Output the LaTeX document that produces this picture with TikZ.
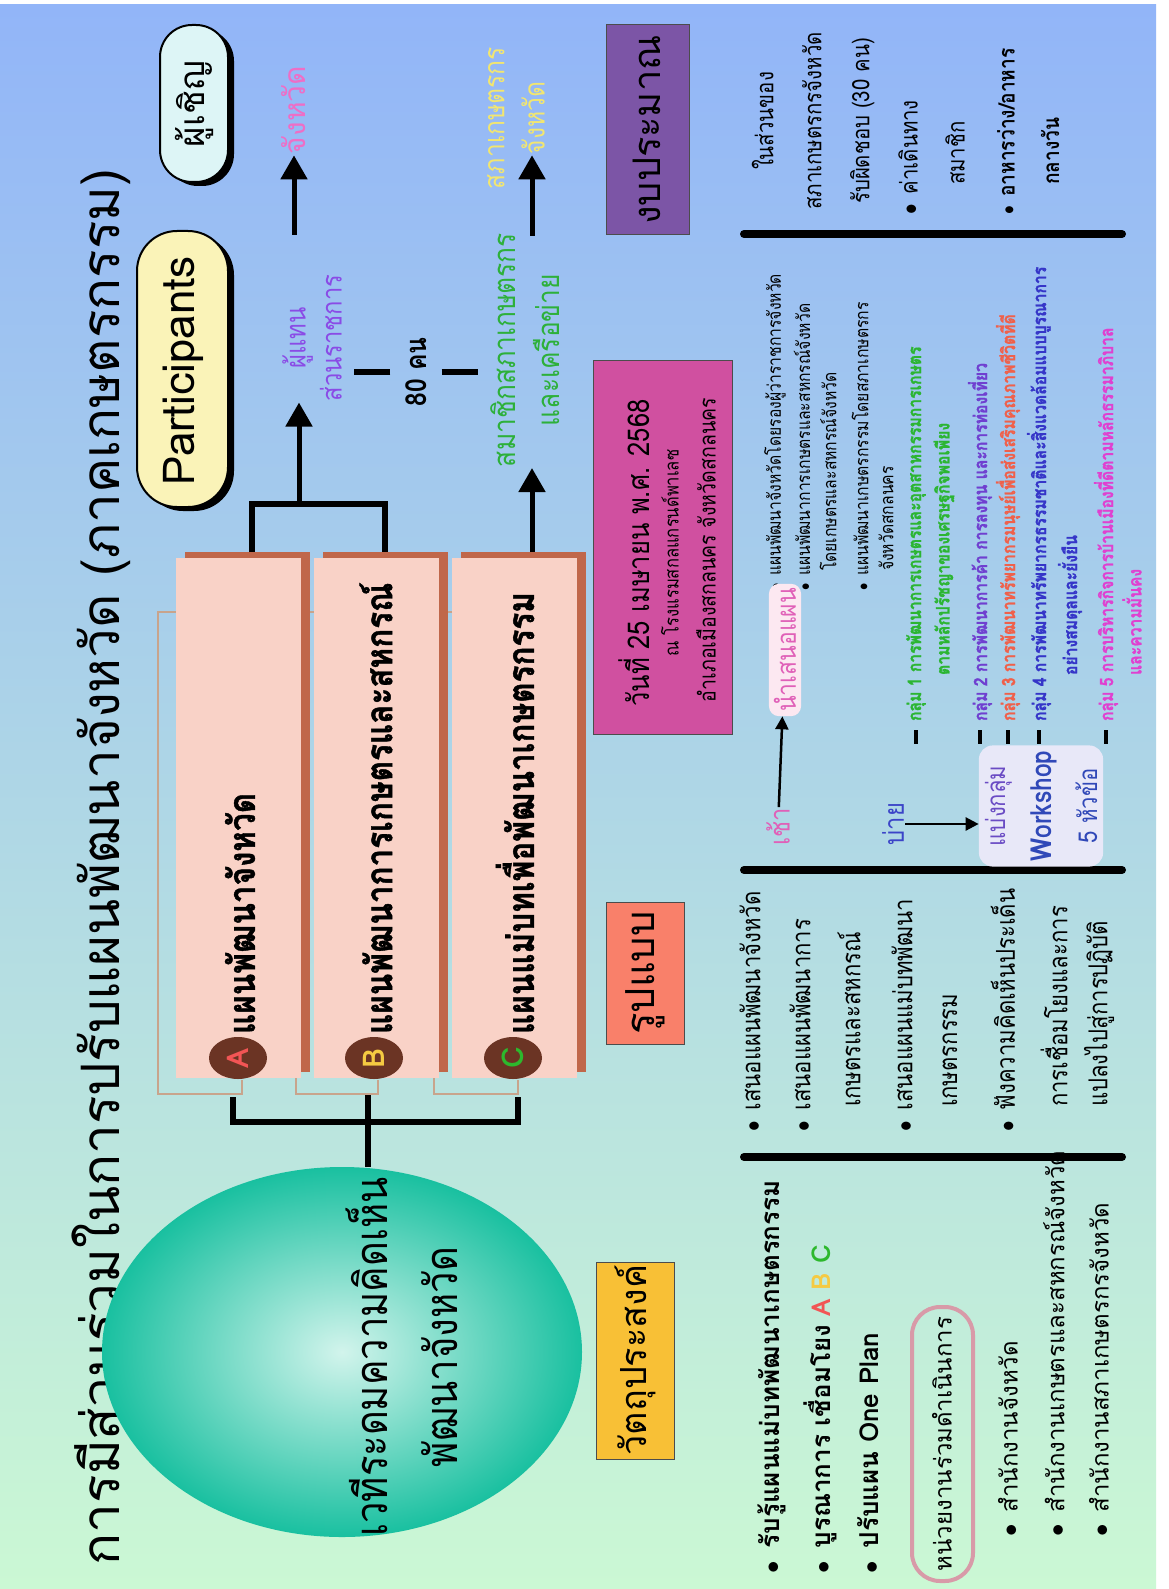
\documentclass[tikz,border=0pt]{standalone}
\usepackage{fontspec}
\setmainfont[Script=Thai]{Loma}
\usepackage{tikz}
\usetikzlibrary{arrows.meta}
\usetikzlibrary{shapes.geometric}

\definecolor{bgtop}{HTML}{92B5F8}
\definecolor{bgmid}{HTML}{AAD5EE}
\definecolor{bgbot}{HTML}{CBF8D4}
\definecolor{barpink}{HTML}{F9D2C7}
\definecolor{barbrown}{HTML}{C0674A}
\definecolor{dotbrown}{HTML}{6B3424}
\definecolor{thinline}{HTML}{C8A48C}
\definecolor{letA}{HTML}{F25555}
\definecolor{letB}{HTML}{F5CA42}
\definecolor{letC}{HTML}{2DB82D}
\definecolor{sphin}{HTML}{D2F4EC}
\definecolor{sphout}{HTML}{19C0A0}
\definecolor{partyel}{HTML}{FAF3B8}
\definecolor{invcyan}{HTML}{DDF5F6}
\definecolor{pinktxt}{HTML}{EE6EC6}
\definecolor{purptxt}{HTML}{8A4BE6}
\definecolor{greentxt}{HTML}{2DB03A}
\definecolor{yeltxt}{HTML}{F2E670}
\definecolor{budgetbox}{HTML}{7C55A6}
\definecolor{datebox}{HTML}{D050A0}
\definecolor{objbox}{HTML}{F8C036}
\definecolor{formbox}{HTML}{F9806A}
\definecolor{lavbox}{HTML}{E8E8F8}
\definecolor{presbox}{HTML}{FCE8F1}
\definecolor{morncol}{HTML}{E060B8}
\definecolor{aftncol}{HTML}{3B44C8}
\definecolor{wspur}{HTML}{6A4BC4}
\definecolor{wsblue}{HTML}{3048B8}
\definecolor{gone}{HTML}{2BB532}
\definecolor{gtwo}{HTML}{6F3FD0}
\definecolor{gthree}{HTML}{F0604A}
\definecolor{gfour}{HTML}{3535C8}
\definecolor{gfive}{HTML}{E040D0}
\definecolor{partner}{HTML}{D89AA8}

\newcommand{\fsz}[2]{\fontsize{#1}{#2}\selectfont}
\newcommand{\bl}{$\bullet$\hspace{0.5em}}
\newcommand{\heavy}{\bfseries\addfontfeatures{FakeBold=1.2}}

\begin{document}
\begin{tikzpicture}[x=1pt, y=-1pt,
    txt/.style={rotate=90, inner sep=1pt},
    lt/.style={txt, anchor=west},
    cn/.style={xscale=0.85},
    rule/.style={line width=8, line cap=round},
    conn/.style={line width=6},
    arr/.style={line width=5, -{Triangle[length=24pt,width=26pt]}},
    thinarr/.style={line width=2.5, -{Triangle[length=13pt,width=13pt]}},
    hdr/.style={draw=black!70, line width=1},
    thin/.style={draw=thinline, line width=1.2},
    grp/.style={lt, cn, font=\fsz{18.5}{20}\heavy},
    pre/.style={lt, cn, font=\fsz{18.5}{20}},
    frm/.style={lt, cn, font=\fsz{26}{30}},
    bud/.style={lt, cn, font=\fsz{24}{28}},
    plan/.style={lt, cn, font=\fsz{37}{40}\heavy}]
    \useasboundingbox (0,0) rectangle (1168,1589);
    \fill[white] (0,0) rectangle (1168,1589);
    \fill[top color=bgtop, middle color=bgmid, bottom color=bgbot] (0,5) rectangle (1156,1589);

    % title
    \node[txt, font=\fsz{53}{60}] (title) at (101,867) {การมีส่วนร่วมในการปรับแผนพัฒนาจังหวัด (ภาคเกษตรกรรม)};

    % participants
    \fill[black, rounded corners=40] (143,235) rectangle (234,511);
    \draw[fill=partyel, line width=2, rounded corners=40] (137,231) rectangle (228,507);
    \node[txt, font=\fsz{44}{48}] (parti) at (183,371) {Participants};
    \fill[black, rounded corners=32] (166,29) rectangle (234,186);
    \draw[fill=invcyan, line width=2, rounded corners=32] (160,25) rectangle (228,182);
    \node[txt, font=\fsz{35}{40}] (invite) at (194,104) {ผู้เชิญ};

    \node[txt, font=\fsz{30}{36}, text=pinktxt] (prov) at (294,110) {จังหวัด};
    \node[txt, cn, align=center, font=\fsz{28}{36}, text=purptxt] (rep) at (312,338) {ผู้แทน\\ส่วนราชการ};
    \node[txt, cn, font=\fsz{29}{36}\bfseries] (eighty) at (416,372) {80 คน};
    \node[txt, cn, align=center, font=\fsz{31}{44}, text=greentxt] (memb) at (525,350) {สมาชิกสภาเกษตรกร\\และเครือข่าย};
    \node[txt, cn, font=\fsz{29}{36}, text=yeltxt] (council) at (496,118) {สภาเกษตรกร};
    \node[txt, cn, font=\fsz{29}{36}, text=yeltxt] (councilb) at (533,118) {จังหวัด};
    \draw[conn] ([xshift=-14pt]eighty.north) -- ++(-36,0);
    \draw[conn] ([xshift=14pt]eighty.south) -- ++(36,0);

    % bars
    \draw[thin] (176,612) -- (158,612) -- (158,1094) -- (242,1094) -- (242,1080);
    \draw[thin] (314,612) -- (296,612) -- (296,1094) -- (378,1094) -- (378,1080);
    \draw[thin] (452,612) -- (434,612) -- (434,1094) -- (518,1094) -- (518,1080);

    \fill[barbrown] (185,552) rectangle (310,1072);
    \fill[barpink] (176,558) rectangle (301,1078);
    \fill[dotbrown] (238,1058) ellipse [x radius=29, y radius=21];
    \node[txt, font=\fsz{30}{30}\bfseries, text=letA] (cA) at (238,1058) {A};
    \node[plan] (planA) at (240,1035) {แผนพัฒนาจังหวัด};

    \fill[barbrown] (323,552) rectangle (448,1072);
    \fill[barpink] (314,558) rectangle (439,1078);
    \fill[dotbrown] (374,1058) ellipse [x radius=29, y radius=21];
    \node[txt, font=\fsz{30}{30}\bfseries, text=letB] (cB) at (374,1058) {B};
    \node[plan] (planB) at (376,1035) {แผนพัฒนาการเกษตรและสหกรณ์};

    \fill[barbrown] (461,552) rectangle (586,1072);
    \fill[barpink] (452,558) rectangle (577,1078);
    \fill[dotbrown] (513,1058) ellipse [x radius=29, y radius=21];
    \node[txt, font=\fsz{30}{30}\bfseries, text=letC] (cC) at (513,1058) {C};
    \node[plan] (planC) at (515,1035) {แผนแม่บทเพื่อพัฒนาเกษตรกรรม};

    % bracket to participants
    \coordinate (tA) at (252,552);
    \coordinate (tB) at (385,552);
    \coordinate (tA1) at (252,504);
    \coordinate (tB1) at (385,504);
    \coordinate (tJ) at (299,504);
    \coordinate (tC) at (532,552);
    \draw[conn] (tA) -- (tA1) -- (tB1) -- (tB);
    \draw[arr] (tJ) -- (tJ |- rep.west);
    \draw[arr] (tC) -- (tC |- memb.west);
    \coordinate (uP) at (294,235);
    \coordinate (uM) at (532,236);
    \draw[arr] (uP) -- (uP |- prov.west);
    \draw[arr] (uM) -- (uM |- councilb.west);

    % forum
    \coordinate (bA) at (233,1097);
    \coordinate (bB) at (368,1095);
    \coordinate (bC) at (518,1097);
    \coordinate (hA) at (233,1122);
    \coordinate (hC) at (518,1122);
    \draw[conn] (bA) -- (hA) -- (hC) -- (bC);
    \node[ellipse, minimum width=480, minimum height=370, shading=radial, inner color=sphin, outer color=sphout] (forum) at (342,1352) {};
    \draw[conn] (bB) -- (bB |- forum.north);
    \node[txt, cn, align=center, font=\fsz{45}{70}] (forumtxt) at (402,1357) {เวทีระดมความคิดเห็น\\พัฒนาจังหวัด};

    % headers
    \draw[hdr, fill=budgetbox] (606,25) rectangle (689,235);
    \node[txt, font=\fsz{38}{44}] (budget) at (647,130) {งบประมาณ};
    \draw[hdr, fill=datebox] (593,360) rectangle (732,734);
    \node[txt, cn, font=\fsz{30}{36}] (date1) at (634,553) {วันที่ 25 เมษายน พ.ศ. 2568};
    \node[txt, cn, font=\fsz{19.5}{24}] (date2) at (670,553) {ณ โรงแรมสกลแกรนด์พาเลซ};
    \node[txt, cn, font=\fsz{23}{28}] (date3) at (706,550) {อำเภอเมืองสกลนคร จังหวัดสกลนคร};
    \draw[hdr, fill=formbox] (606,902) rectangle (684,1044);
    \node[txt, font=\fsz{40}{44}] (form) at (645,973) {รูปแบบ};
    \draw[hdr, fill=objbox] (596,1262) rectangle (674,1459);
    \node[txt, font=\fsz{36}{40}] (goal) at (635,1360) {วัตถุประสงค์};

    \draw[rule] (744,234) -- (1122,234);
    \draw[rule] (744,870) -- (1122,870);
    \draw[rule] (744,1157) -- (1122,1157);

    % budget details
    \node[txt, cn, align=center, font=\fsz{24}{48}] (bud1) at (813,121) {ในส่วนของ\\สภาเกษตรกรจังหวัด\\รับผิดชอบ (30 คน)};
    \node[bud] (bud4) at (908,216) {\bl ค่าเดินทาง};
    \node[bud] (bud5) at (955,186) {สมาชิก};
    \node[bud, font=\fsz{22.5}{28}\bfseries] (bud6) at (1006,216) {\bl อาหารว่าง/อาหาร};
    \node[bud, font=\fsz{22.5}{28}\bfseries] (bud7) at (1050,186) {กลางวัน};

    % morning / afternoon
    \node[pre] (pre1) at (775,592) {\bl แผนพัฒนาจังหวัดโดยรองผู้ว่าราชการจังหวัด};
    \node[pre] (pre2) at (802,592) {\bl แผนพัฒนาการเกษตรและสหกรณ์จังหวัด};
    \node[pre] (pre3) at (828,572) {โดยเกษตรและสหกรณ์จังหวัด};
    \node[pre] (pre4) at (860,592) {\bl แผนพัฒนาเกษตรกรรมโดยสภาเกษตรกร};
    \node[pre] (pre5) at (886,572) {จังหวัดสกลนคร};

    \node[txt, cn, font=\fsz{28}{30}, text=morncol] (morn) at (778,827) {เช้า};
    \node[txt, cn, fill=presbox, rounded corners=10, inner sep=5pt, font=\fsz{27}{28}, text=morncol] (pres) at (785,650) {นำเสนอแผน};
    \draw[thinarr] (morn) -- (pres);
    \node[txt, cn, font=\fsz{28}{30}, text=aftncol] (aftn) at (893,824) {บ่าย};
    \node[txt, cn, fill=lavbox, rounded corners=14, inner sep=6pt, align=center, font=\fsz{26}{46}] (ws) at (1041,806) {{\color{wspur}แบ่งกลุ่ม}\\{\color{wsblue}\fsz{29}{46}\bfseries Workshop}\\{\color{wsblue}5 หัวข้อ}};
    \draw[thinarr] (aftn) -- (aftn -| ws.north);

    % groups
    \node[grp, text=gone] (g1) at (916,722) {กลุ่ม 1 การพัฒนาการเกษตรและอุตสาหกรรมการเกษตร};
    \node[grp, text=gone] (g1b) at (944,676) {ตามหลักปรัชญาของเศรษฐกิจพอเพียง};
    \node[grp, text=gtwo] (g2) at (980,722) {กลุ่ม 2 การพัฒนาการค้า การลงทุน และการท่องเที่ยว};
    \node[grp, text=gthree] (g3) at (1008,722) {กลุ่ม 3 การพัฒนาทรัพยากรมนุษย์เพื่อส่งเสริมคุณภาพชีวิตที่ดี};
    \node[grp, text=gfour] (g4) at (1039,722) {กลุ่ม 4 การพัฒนาทรัพยากรธรรมชาติและสิ่งแวดล้อมแบบบูรณาการ};
    \node[grp, text=gfour] (g4b) at (1070,676) {อย่างสมดุลและยั่งยืน};
    \node[grp, text=gfive] (g5) at (1106,722) {กลุ่ม 5 การบริหารกิจการบ้านเมืองที่ดีตามหลักธรรมาภิบาล};
    \node[grp, text=gfive] (g5b) at (1132,676) {และความมั่นคง};
    \draw[line width=4] (g1.west) ++(0,8) -- ++(0,14);
    \draw[line width=4] (g2.west) ++(0,8) -- ++(0,14);
    \draw[line width=4] (g3.west) ++(0,8) -- ++(0,14);
    \draw[line width=4] (g4.west) ++(0,8) -- ++(0,14);
    \draw[line width=4] (g5.west) ++(0,8) -- ++(0,14);

    % form
    \node[frm] (f1) at (750,1133) {\bl เสนอแผนพัฒนาจังหวัด};
    \node[frm] (f2) at (800,1133) {\bl เสนอแผนพัฒนาการ};
    \node[frm] (f3) at (849,1108) {เกษตรและสหกรณ์};
    \node[frm] (f4) at (902,1133) {\bl เสนอแผนแม่บทพัฒนา};
    \node[frm] (f5) at (950,1108) {เกษตรกรรม};
    \node[frm] (f6) at (1003,1133) {\bl ฟังความคิดเห็นประเด็น};
    \node[frm] (f7) at (1054,1108) {การเชื่อมโยงและการ};
    \node[frm] (f8) at (1099,1108) {แปลงไปสู่การปฏิบัติ};

    % objectives
    \node[lt, font=\fsz{26}{30}\bfseries] (o1) at (772,1575) {\bl รับรู้แผนแม่บทพัฒนาเกษตรกรรม};
    \node[lt, font=\fsz{26}{30}\bfseries] (o2) at (820,1575) {\bl บูรณาการ เชื่อมโยง {\color{letA}A} {\color{letB}B} {\color{letC}C}};
    \node[lt, font=\fsz{26}{30}\bfseries] (o3) at (868,1575) {\bl ปรับแผน One Plan};
    \draw[draw=partner, line width=4, rounded corners=28] (912,1307) rectangle (973,1581);
    \node[txt, font=\fsz{24}{28}] (partners) at (942,1444) {หน่วยงานร่วมดำเนินการ};
    \node[lt, font=\fsz{24}{28}] (s1) at (1008,1538) {\bl สำนักงานจังหวัด};
    \node[lt, font=\fsz{24}{28}] (s2) at (1054,1538) {\bl สำนักงานเกษตรและสหกรณ์จังหวัด};
    \node[lt, font=\fsz{24}{28}] (s3) at (1099,1538) {\bl สำนักงานสภาเกษตรกรจังหวัด};
\end{tikzpicture}
\end{document}
